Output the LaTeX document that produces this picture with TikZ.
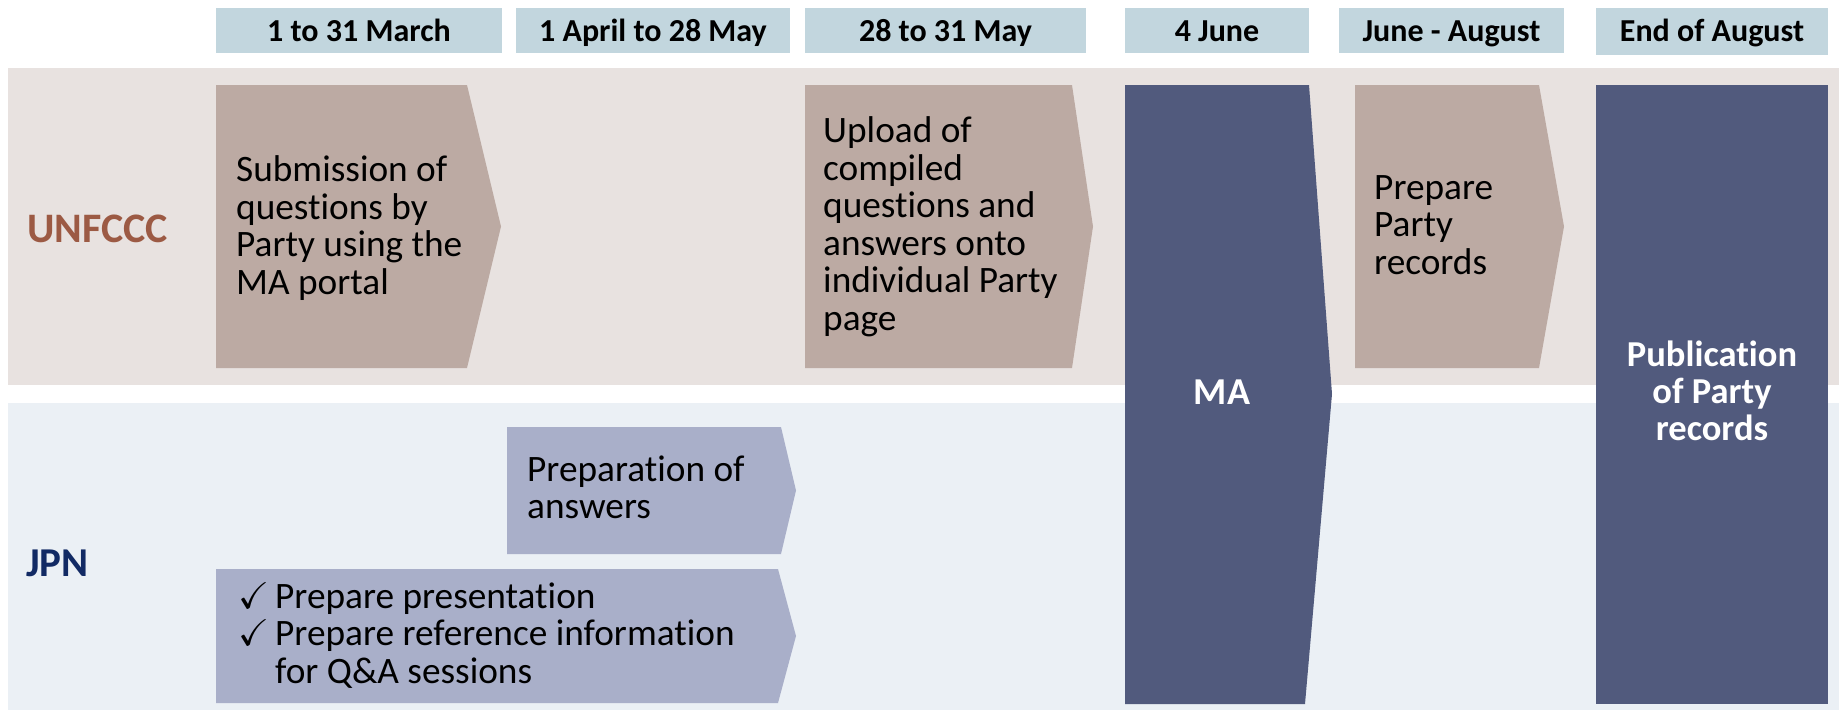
\documentclass[tikz,border=0pt]{standalone}
\usepackage{amssymb}
\usepackage{fontspec}
\setmainfont{Carlito}[RawFeature={-liga;-clig;-dlig;-rlig;-calt}]
\definecolor{hdrfill}{RGB}{194,214,222}
\definecolor{unband}{RGB}{232,226,224}
\definecolor{jpband}{RGB}{235,240,245}
\definecolor{taupe}{RGB}{188,170,163}
\definecolor{navy}{RGB}{81,90,125}
\definecolor{lavender}{RGB}{169,175,201}
\definecolor{untext}{RGB}{156,90,68}
\definecolor{jptext}{RGB}{18,42,100}
\begin{document}
\begin{tikzpicture}[x=1pt,y=-1pt,
  hdrtext/.style={font=\fontsize{32}{36}\selectfont\bfseries, anchor=base, inner sep=0pt},
  body/.style={font=\fontsize{37.3}{37.5}\selectfont, align=left, anchor=west, inner sep=0pt},
  whitebold/.style={font=\fontsize{36.5}{37}\selectfont\bfseries, text=white, align=center, inner sep=0pt},
  lanetext/.style={font=\fontsize{42}{48}\selectfont\bfseries, anchor=west, inner sep=0pt}]
\useasboundingbox (0,0) rectangle (1839,712);
\fill[white] (0,0) rectangle (1839,712);
% lanes
\fill[unband] (8,68) rectangle (1839,385);
\fill[jpband] (8,403) rectangle (1839,710);
% headers
\fill[hdrfill] (216,7.5) rectangle (502,52.5);
\fill[hdrfill] (516,7.5) rectangle (790,52.5);
\fill[hdrfill] (805,7.5) rectangle (1086,52.5);
\fill[hdrfill] (1125,7.5) rectangle (1309,52.5);
\fill[hdrfill] (1339,7.5) rectangle (1564,52.5);
\fill[hdrfill] (1596,7.5) rectangle (1828,54.5);
\node[hdrtext] (h1) at (359,41) {1 to 31 March};
\node[hdrtext] (h2) at (653,41) {1 April to 28 May};
\node[hdrtext] (h3) at (945.5,41) {28 to 31 May};
\node[hdrtext] (h4) at (1217,41) {4 June};
\node[hdrtext] (h5) at (1451.5,41) {June - August};
\node[hdrtext] (h6) at (1712,41.5) {End of August};
% lane labels
\node[lanetext, text=untext] (unfccc) at (27,228.5) {UNFCCC};
\node[lanetext, text=jptext, font=\fontsize{41}{48}\selectfont\bfseries] (jpn) at (26,563) {JPN};
% UNFCCC arrows
\fill[taupe] (216,85) -- (467,85) -- (501,226.5) -- (467,368) -- (216,368) -- cycle;
\fill[taupe] (805,85) -- (1072,85) -- (1093,226.5) -- (1072,368) -- (805,368) -- cycle;
\fill[taupe] (1355,85) -- (1539,85) -- (1564,226.5) -- (1539,368) -- (1355,368) -- cycle;
\node[body] (sub) at (236,228) {Submission of\\questions by\\Party using the\\MA portal};
\node[body] (upl) at (823,227) {Upload of\\compiled\\questions and\\answers onto\\individual Party\\page};
\node[body] (ppr) at (1374,225) {Prepare\\Party\\records};
% MA and publication
\fill[navy] (1125,85) -- (1309,85) -- (1332,394) -- (1305,704) -- (1125,704) -- cycle;
\fill[navy] (1596,85) rectangle (1828,704);
\node[whitebold, font=\fontsize{38}{38}\selectfont\bfseries] (ma) at (1222,392) {MA};
\node[whitebold] (pub) at (1712,391) {Publication\\of Party\\records};
% JPN arrows
\fill[lavender] (507,427) -- (781,427) -- (796,490.5) -- (781,554) -- (507,554) -- cycle;
\fill[lavender] (216,569) -- (778,569) -- (796,636) -- (778,703) -- (216,703) -- cycle;
\node[body] (ans) at (527,487.5) {Preparation of\\answers};
\node[body, align=none] (pres) at (238,638) {\begin{tabular}{@{}l@{}l@{}}
\makebox[37pt][l]{$\checkmark$} & Prepare presentation\\
\makebox[37pt][l]{$\checkmark$} & Prepare reference information\\
 & for Q\&A sessions
\end{tabular}};
\end{tikzpicture}
\end{document}
